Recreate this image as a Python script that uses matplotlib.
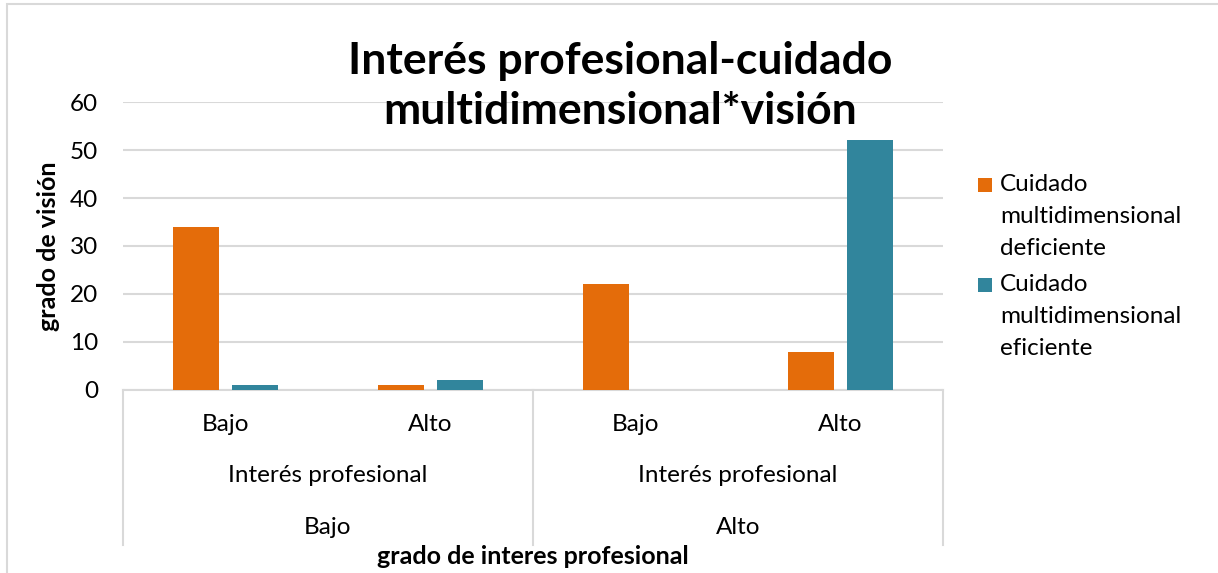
import numpy as np
import matplotlib
matplotlib.use('Agg')
import matplotlib.pyplot as plt
from matplotlib.patches import Rectangle
from matplotlib.lines import Line2D

# data
inner_labels = ['Bajo', 'Alto', 'Bajo', 'Alto']
middle_labels = ['Interés profesional', 'Interés profesional']
outer_labels = ['Bajo', 'Alto']
deficiente = [34, 1, 22, 8]
eficiente = [1, 2, 0, 52]
series_names = ['Cuidado\nmultidimensional\ndeficiente', 'Cuidado\nmultidimensional\neficiente']

ORANGE = '#E46C0A'
TEAL = '#31859C'
GRID = '#D9D9D9'
FS = 17.5

plt.rcParams['font.family'] = ['Lato', 'DejaVu Sans']

W, H = 1218, 573
fig = plt.figure(figsize=(W/100, H/100), dpi=100)

# chart border (right and bottom edges fall outside the picture)
fig.patches.append(Rectangle((7/W, -0.01), 1.1, (H-4)/H + 0.01, transform=fig.transFigure,
                             fill=False, edgecolor=GRID, linewidth=1.5))

x0, x1, ytop, ybot = 123, 943, 102, 390
ax = fig.add_axes([x0/W, (H-ybot)/H, (x1-x0)/W, (ybot-ytop)/H])

x = np.arange(len(inner_labels))
bw = 0.224
b1 = ax.bar(x - 0.142, deficiente, bw, color=ORANGE, zorder=3)
b2 = ax.bar(x + 0.142, eficiente, bw, color=TEAL, zorder=3)

ax.set_xlim(-0.5, len(x) - 0.5)
ax.set_ylim(0, 60)
ax.set_yticks(np.arange(0, 61, 10))
ax.yaxis.grid(True, color=GRID, linewidth=1.5, zorder=0)
for s in ['top', 'right', 'left']:
    ax.spines[s].set_visible(False)
ax.spines['bottom'].set_color(GRID)
ax.spines['bottom'].set_linewidth(1.5)
ax.tick_params(axis='y', length=0, labelsize=FS, pad=18)
ax.set_xticks(x, inner_labels)
ax.tick_params(axis='x', length=0, labelsize=FS, pad=17)

def ay(py):
    # pixel row -> axes fraction
    return (ybot - py) / (ybot - ytop)

trans = ax.get_xaxis_transform()
for g in range(len(outer_labels)):
    c = 2*g + 0.5
    ax.text(c, ay(476), middle_labels[g], transform=trans, ha='center', va='center', fontsize=FS)
    ax.text(c, ay(527), outer_labels[g], transform=trans, ha='center', va='center', fontsize=FS)
for xs in [-0.5, 1.5, 3.5]:
    ax.add_line(Line2D([xs, xs], [0, ay(545)], transform=trans, color=GRID, linewidth=1.5, clip_on=False))

fig.text(49/W, 1 - 246/H, 'grado de visión', rotation=90, ha='center', va='center',
         fontsize=18, fontweight='bold')
fig.text(533/W, 1 - 557/H, 'grado de interes profesional', ha='center', va='center',
         fontsize=18, fontweight='bold')

fig.text(620/W, 1 - 86/H, 'Interés profesional-cuidado\nmultidimensional*visión', ha='center', va='center',
         fontsize=32, fontweight='bold', linespacing=1.3)

# legend: square next to the first line of each wrapped name
for i, (bars, name) in enumerate([(b1, series_names[0]), (b2, series_names[1])]):
    ytxt = 174 + i*100
    fig.patches.append(Rectangle((978/W, 1 - (ytxt + 18)/H), 14/W, 14/H, transform=fig.transFigure,
                                 facecolor=bars.patches[0].get_facecolor(), edgecolor='none'))
    fig.text(1000/W, 1 - ytxt/H, name, ha='left', va='top', fontsize=FS, linespacing=1.65)

fig.savefig('out.png', dpi=100)
